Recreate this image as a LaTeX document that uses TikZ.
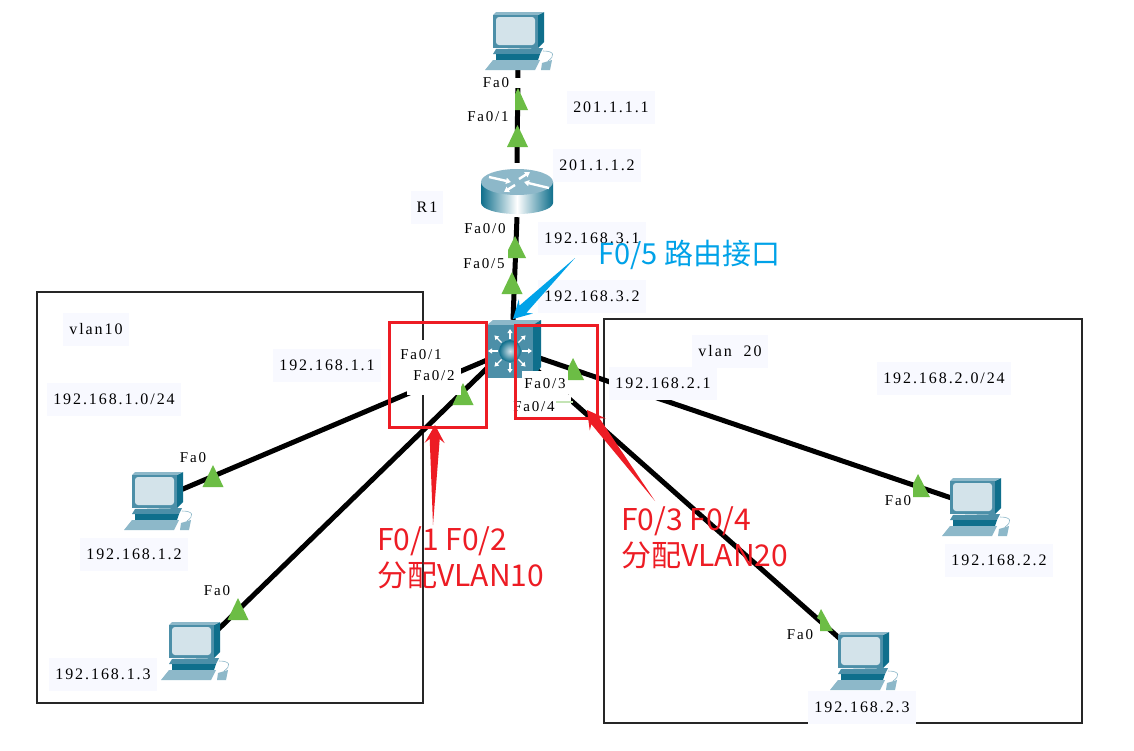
\documentclass[tikz,border=0pt]{standalone}
\usepackage{fontspec}
\setmainfont{Liberation Serif}
\newfontfamily\lblfont[LetterSpace=12]{Liberation Serif}
\newfontfamily\cjkfont{Noto Sans CJK SC}
\usetikzlibrary{calc,arrows.meta}
\definecolor{pcteal}{HTML}{4C8FA8}
\definecolor{pcdark}{HTML}{0F6F8C}
\definecolor{pclight}{HTML}{8DB8C9}
\definecolor{pcscreen}{HTML}{D3E3EA}
\definecolor{portgreen}{HTML}{6CBD45}
\definecolor{ipback}{HTML}{F8F9FF}
\definecolor{notered}{HTML}{ED1C24}
\definecolor{noteblue}{HTML}{00A2E8}
\tikzset{
	link/.style={line width=5pt,black},
	devbox/.style={inner sep=0pt,minimum width=51pt,minimum height=56pt},
	vlanbox/.style={draw=black!85,line width=1.3pt},
	redbox/.style={draw=notered,line width=3pt},
	iplabel/.style={fill=ipback,font=\lblfont\fontsize{16}{16}\selectfont,inner xsep=6pt,minimum height=33pt},
	portlabel/.style={fill=white,font=\lblfont\fontsize{15}{15}\selectfont,inner sep=2pt},
	note/.style={font=\cjkfont\fontsize{30}{36}\selectfont,align=left,inner sep=0pt,anchor=north west},
	pc/.pic={
		% origin is the top left corner of the screen
		\fill[pcdark] (45,3) -- (51,0) -- (51,30) -- (45,36) -- cycle;
		\fill[pclight] (0,3) -- (3,0) -- (51,0) -- (45,3) -- cycle;
		\fill[pcteal] (0,3) rectangle (45,36);
		\fill[pcscreen,rounded corners=3pt] (3,5) rectangle (42,33);
		\fill[pcteal] (0,42) -- (3,37) -- (50,36) -- (47,42) -- cycle;
		\fill[pcdark] (3,42) -- (47,42) -- (45,48) -- (3,48) -- cycle;
		\fill[pclight] (-8,58) -- (0,48) -- (47,48) -- (42,58) -- cycle;
		\fill[pclight] (49,51) -- (59,48) -- (57,58) -- (48,58) -- cycle;
		\draw[pclight,line width=.6pt] (55,49) .. controls (62,44) and (62,39) .. (50,39);
	},
	router/.pic={
		\shade[left color=pcdark,right color=pcdark,middle color=white] (-36,-10) -- (-36,11) arc[start angle=180,end angle=0,x radius=36,y radius=11] -- (36,-10) -- cycle;
		\fill[pclight] (0,-10) ellipse[x radius=36,y radius=13];
		\begin{scope}[white,line width=2.4pt,-{Triangle[length=5pt,width=6pt]}]
			\draw (-28,-15) -- (-6,-10);
			\draw (32,-4) -- (7,-10);
			\draw (2,-13) -- (13,-20);
			\draw (-2,-7) -- (-13,0);
		\end{scope}
	},
	l3switch/.pic={
		\fill[pclight] (-23,-26) -- (-17,-31) -- (31,-31) -- (23,-26) -- cycle;
		\fill[pcdark] (23,-26) -- (31,-31) -- (31,16) -- (23,27) -- cycle;
		\fill[pcteal] (-23,-26) rectangle (23,27);
		\foreach \ang in {0,45,...,315}
			\draw[white,line width=1.2pt,-{Triangle[length=4pt,width=5pt]}] (\ang:12) -- (\ang:22);
		\shade[inner color=pcscreen,outer color=pcdark] (0,0) circle (11);
	},
}
\newcommand{\porttip}[1]{\fill[portgreen] #1 -- ++(-10.5,22) -- ++(21,0) -- cycle;}
\newcommand{\noteshaft}[3]{% tapered arrow from #1 to #2
	\fill[#3] (#1) -- ($(#2)!14pt!(#1)!5pt!90:(#2)$) -- ($(#2)!18pt!(#1)!10pt!90:(#2)$) -- (#2)
		-- ($(#2)!18pt!(#1)!10pt!-90:(#2)$) -- ($(#2)!14pt!(#1)!5pt!-90:(#2)$) -- cycle;}
\begin{document}
\begin{tikzpicture}[x=1pt,y=-1pt]
	\useasboundingbox (0,0) rectangle (1134,750);
	\fill[white] (0,0) rectangle (1134,750);
	% vlan frames
	\draw[vlanbox] (37,292) rectangle (423,703);
	\draw[vlanbox] (604,319) rectangle (1082,723);
	% devices
	\node[devbox] (pcTop) at (518,40) {};
	\node[devbox,minimum width=72pt,minimum height=54pt] (rOne) at (517,190) {};
	\node[devbox,minimum width=54pt,minimum height=58pt] (swOne) at (513,349) {};
	\coordinate (swLow) at (513,343);
	\node[devbox] (pcA) at (157,500) {};
	\node[devbox] (pcB) at (197,650) {};
	\node[devbox] (pcC) at (975,506) {};
	\node[devbox] (pcD) at (864,660) {};
	% links
	\path[link]
	(pcTop.south) edge (rOne.north)
	(rOne.south) edge (swOne.north)
	(swOne.center) edge (pcA.center)
	(swLow) edge (pcB.center)
	(swOne.center) edge (pcC.center)
	(swOne.center) edge (pcD.center);
	% ports
	\fill[portgreen] (518,88) -- (515,94) -- (515,110) -- (528,110) -- cycle;
	\porttip{(517.5,125)}
	\fill[portgreen] (515,236) -- (508,250) -- (508,258) -- (526,258) -- cycle;
	\porttip{(512,272)}
	\porttip{(463,383)} \porttip{(213,465)} \porttip{(238,598)}
	\fill[portgreen] (573,358) -- (568,368) -- (568,380) -- (584,380) -- cycle;
	\fill[portgreen] (918,474) -- (913,484) -- (913,497) -- (930,497) -- cycle;
	\fill[portgreen] (821,609) -- (817,618) -- (820,620) -- (820,631) -- (833,631) -- cycle;
	\pic at (493,12) {pc};
	\pic at (517,192) {router};
	\pic at (510,351) {l3switch};
	\pic at (132,472) {pc};
	\pic at (169,622) {pc};
	\pic at (950,478) {pc};
	\pic at (838,632) {pc};
	% labels
	\node[portlabel,inner xsep=25pt,inner ysep=0pt] (pTopA) at (496,83) {Fa0};
	\node[portlabel] (pTopB) at (488,117) {Fa0/1};
	\node[portlabel] (pRtr) at (485,229) {Fa0/0};
	\node[portlabel] (pSwUp) at (484,264) {Fa0/5};
	\node[portlabel,inner xsep=6pt,minimum height=38pt] (pSwB) at (434,376) {Fa0/2};
	\node[portlabel,inner xsep=5pt,minimum height=30pt] (pSwA) at (421,355) {Fa0/1};
	\node[portlabel,inner xsep=2pt,minimum height=26pt] (pSwC) at (545,384) {Fa0/3};
	\node[portlabel,inner xsep=16pt,minimum height=24pt] (pSwD) at (534,407) {Fa0/4};
	\fill[portgreen!40] (556,401) rectangle (573,402.5);
	\node[portlabel] (pA) at (193,458) {Fa0};
	\node[portlabel] (pB) at (217,591) {Fa0};
	\node[portlabel] (pC) at (898,501) {Fa0};
	\node[portlabel] (pD) at (800,635) {Fa0};
	\node[iplabel] (ipTopA) at (611,107) {201.1.1.1};
	\node[iplabel] (ipTopB) at (597,165) {201.1.1.2};
	\node[iplabel] (nameR) at (427,207) {R1};
	\node[iplabel] (ipUpA) at (592,238) {192.168.3.1};
	\node[iplabel] (ipUpB) at (592,296) {192.168.3.2};
	\node[iplabel] (vlanA) at (96,329) {vlan10};
	\node[iplabel] (ipGwA) at (327,365) {192.168.1.1};
	\node[iplabel] (netA) at (114,399) {192.168.1.0/24};
	\node[iplabel] (vlanB) at (730,351) {vlan\ \ 20};
	\node[iplabel] (ipGwB) at (663,383) {192.168.2.1};
	\node[iplabel] (netB) at (944,378) {192.168.2.0/24};
	\node[iplabel] (ipA) at (134,554) {192.168.1.2};
	\node[iplabel] (ipB) at (103,674) {192.168.1.3};
	\node[iplabel] (ipC) at (999,560) {192.168.2.2};
	\node[iplabel] (ipD) at (862,707) {192.168.2.3};
	% notes
	\draw[redbox] (389,322) rectangle (486,427);
	\draw[redbox] (515,325) rectangle (597,418);
	\coordinate (tailBlue) at (575,258);
	\coordinate (headBlue) at (513,319);
	\coordinate (tailA) at (433,525);
	\coordinate (headA) at (435,425);
	\coordinate (tailB) at (655,501);
	\coordinate (headB) at (587,410);
	\noteshaft{tailBlue}{headBlue}{noteblue}
	\noteshaft{tailA}{headA}{notered}
	\noteshaft{tailB}{headB}{notered}
	\node[note,text=noteblue,font=\cjkfont\fontsize{29}{36}\selectfont] (noteUp) at (598,240) {F0/5 路由接口};
	\node[note,text=notered] (noteA) at (377,526) {F0/1 F0/2\\分配VLAN10};
	\node[note,text=notered] (noteB) at (621,506) {F0/3 F0/4\\分配VLAN20};
\end{tikzpicture}
\end{document}
